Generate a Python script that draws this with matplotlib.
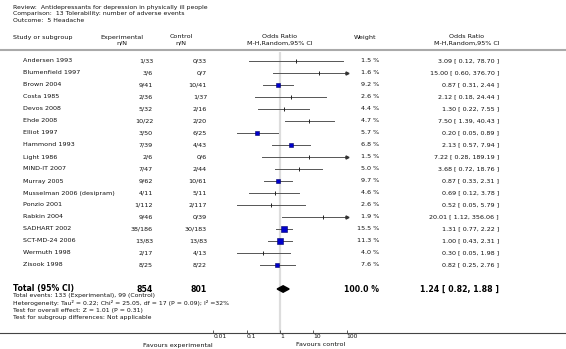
import matplotlib
matplotlib.use("Agg")
import matplotlib.pyplot as plt
import numpy as np

W, H = 566, 349

studies = ["Andersen 1993", "Blumenfield 1997", "Brown 2004", "Costa 1985", "Devos 2008",
           "Ehde 2008", "Elliot 1997", "Hammond 1993", "Light 1986", "MIND-IT 2007",
           "Murray 2005", "Musselman 2006 (desipram)", "Ponzio 2001", "Rabkin 2004",
           "SADHART 2002", "SCT-MD-24 2006", "Wermuth 1998", "Zisook 1998"]
exp_nN = ["1/33", "3/6", "9/41", "2/36", "5/32", "10/22", "3/50", "7/39", "2/6", "7/47",
          "9/62", "4/11", "1/112", "9/46", "38/186", "13/83", "2/17", "8/25"]
ctl_nN = ["0/33", "0/7", "10/41", "1/37", "2/16", "2/20", "6/25", "4/43", "0/6", "2/44",
          "10/61", "5/11", "2/117", "0/39", "30/183", "13/83", "4/13", "8/22"]
weights = [1.5, 1.6, 9.2, 2.6, 4.4, 4.7, 5.7, 6.8, 1.5, 5.0, 9.7, 4.6, 2.6, 1.9, 15.5, 11.3, 4.0, 7.6]
odds = [3.09, 15.00, 0.87, 2.12, 1.30, 7.50, 0.20, 2.13, 7.22, 3.68, 0.87, 0.69, 0.52, 20.01,
        1.31, 1.00, 0.30, 0.82]
ci_lo = [0.12, 0.60, 0.31, 0.18, 0.22, 1.39, 0.05, 0.57, 0.28, 0.72, 0.33, 0.12, 0.05, 1.12,
         0.77, 0.43, 0.05, 0.25]
ci_hi = [78.70, 376.70, 2.44, 24.44, 7.55, 40.43, 0.89, 7.94, 189.19, 18.76, 2.31, 3.78, 5.79,
         356.06, 2.22, 2.31, 1.98, 2.76]

total_exp, total_ctl = 854, 801
total_or, total_lo, total_hi = 1.24, 0.82, 1.88
ticks = [0.01, 0.1, 1, 10, 100]
tick_labels = ["0.01", "0.1", "1", "10", "100"]

txt = "#111111"
fs = 4.6

fig = plt.figure(figsize=(W / 100, H / 100), dpi=100)
ax0 = fig.add_axes([0, 0, 1, 1])
ax0.set_xlim(0, W)
ax0.set_ylim(H, 0)
ax0.axis("off")

def row_y(i):
    return 61 + 12 * i

# title block
ax0.text(13, 7, "Review:  Antidepressants for depression in physically ill people", fontsize=4.4, color=txt, va="center")
ax0.text(13, 14, "Comparison:  13 Tolerability: number of adverse events", fontsize=4.4, color=txt, va="center")
ax0.text(13, 21, "Outcome:  5 Headache", fontsize=4.4, color=txt, va="center")

# headers
ax0.text(13, 38, "Study or subgroup", fontsize=fs, color=txt, va="center")
ax0.text(122, 37, "Experimental", fontsize=fs, color=txt, va="center", ha="center")
ax0.text(122, 43, "n/N", fontsize=fs, color=txt, va="center", ha="center")
ax0.text(181, 37, "Control", fontsize=fs, color=txt, va="center", ha="center")
ax0.text(181, 43, "n/N", fontsize=fs, color=txt, va="center", ha="center")
ax0.text(280, 37, "Odds Ratio", fontsize=fs, color=txt, va="center", ha="center")
ax0.text(280, 43, "M-H,Random,95% CI", fontsize=fs, color=txt, va="center", ha="center")
ax0.text(365, 38, "Weight", fontsize=fs, color=txt, va="center", ha="center")
ax0.text(467, 37, "Odds Ratio", fontsize=fs, color=txt, va="center", ha="center")
ax0.text(467, 43, "M-H,Random,95% CI", fontsize=fs, color=txt, va="center", ha="center")
ax0.plot([0, W], [49.5, 49.5], color="#aaaaaa", lw=1.5)

for i, name in enumerate(studies):
    y = row_y(i)
    ax0.text(23, y, name, fontsize=fs, color=txt, va="center")
    ax0.text(153, y, exp_nN[i], fontsize=fs, color=txt, va="center", ha="right")
    ax0.text(207, y, ctl_nN[i], fontsize=fs, color=txt, va="center", ha="right")
    ax0.text(379, y, "%.1f %%" % weights[i], fontsize=fs, color=txt, va="center", ha="right")
    ax0.text(499, y, "%.2f [ %.2f, %.2f ]" % (odds[i], ci_lo[i], ci_hi[i]),
             fontsize=fs, color=txt, va="center", ha="right")

# total row
ty = row_y(19)
ax0.text(13, ty, "Total (95% CI)", fontsize=5.6, color="black", va="center", weight="bold")
ax0.text(153, ty, str(total_exp), fontsize=5.6, color="black", va="center", ha="right", weight="bold")
ax0.text(207, ty, str(total_ctl), fontsize=5.6, color="black", va="center", ha="right", weight="bold")
ax0.text(379, ty, "100.0 %", fontsize=5.6, color="black", va="center", ha="right", weight="bold")
ax0.text(499, ty, "%.2f [ %.2f, %.2f ]" % (total_or, total_lo, total_hi), fontsize=5.6,
         color="black", va="center", ha="right", weight="bold")

foot = ["Total events: 133 (Experimental), 99 (Control)",
        "Heterogeneity: Tau\u00b2 = 0.22; Chi\u00b2 = 25.05, df = 17 (P = 0.09); I\u00b2 =32%",
        "Test for overall effect: Z = 1.01 (P = 0.31)",
        "Test for subgroup differences: Not applicable"]
for k, s in enumerate(foot):
    ax0.text(13, 296 + 7.3 * k, s, fontsize=4.4, color=txt, va="center")

# axis line and favours labels
ax0.plot([0, W], [333, 333], color="#444444", lw=0.8)
ax0.text(213, 345, "Favours experimental", fontsize=fs, color=txt, va="center", ha="right")
ax0.text(321, 345, "Favours control", fontsize=fs, color=txt, va="center", ha="center")

# forest plot axes
x_left, x_right, y_top, y_bot = 213.3, 346.7, 52, 333
ax = fig.add_axes([x_left / W, 1 - y_bot / H, (x_right - x_left) / W, (y_bot - y_top) / H])
ax.patch.set_alpha(0)
ax.set_xscale("log")
ax.set_xlim(0.01, 100)
ax.set_ylim((y_bot - 61) / 12, (y_top - 61) / 12)
for sp in ax.spines.values():
    sp.set_visible(False)
ax.set_yticks([])
ax.set_xticks(ticks)
ax.set_xticklabels(tick_labels)
ax.minorticks_off()
ax.tick_params(axis="x", direction="in", length=2.5, width=0.6, color="#444444",
               labelsize=4.3, labelcolor=txt, pad=1)
for lab in ax.get_xticklabels():
    lab.set_horizontalalignment("left")

ax.axvline(1, color="#dddddd", lw=1.6, zorder=0)

xmax = 100
for i in range(len(studies)):
    hi = min(ci_hi[i], xmax)
    ax.plot([ci_lo[i], hi], [i, i], color="#555555", lw=0.7, zorder=2)
    if ci_hi[i] > xmax:
        ax.plot([xmax], [i], marker=">", markersize=2.2, color="#333333", zorder=3, clip_on=False)
    if weights[i] >= 5.5:
        side = 1.5 * np.sqrt(weights[i]) / 1.389
        ax.plot([odds[i]], [i], marker="s", markersize=side, markerfacecolor="#0000cc",
                markeredgecolor="#000066", markeredgewidth=0.4, zorder=4)
    else:
        ax.plot([odds[i]], [i], marker="|", markersize=2.6, markeredgewidth=0.7,
                color="#222222", zorder=4)

d = 0.27
ax.fill([total_lo, total_or, total_hi, total_or], [19, 19 - d, 19, 19 + d],
        color="black", zorder=4)

fig.savefig("out.png", dpi=100)
